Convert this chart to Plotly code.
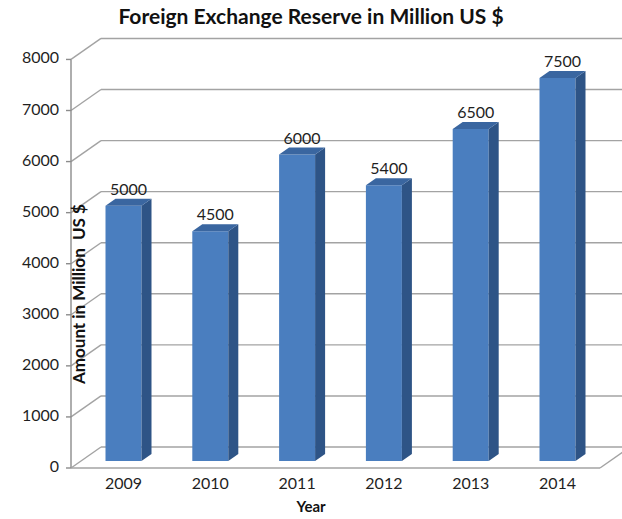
import plotly.graph_objects as go

# ---- data -------------------------------------------------------------
years = ["2009", "2010", "2011", "2012", "2013", "2014"]
reserves = [5000, 4500, 6000, 5400, 6500, 7500]
y_ticks = [0, 1000, 2000, 3000, 4000, 5000, 6000, 7000, 8000]

# ---- page / projection settings ---------------------------------------
W, H = 622, 519
MARGIN = dict(l=0, r=0, t=30, b=49)
CAT_PX = 86.8          # pixels between neighbouring categories
FIRST_CAT_PX = 123.5   # pixel column of the first category
UNIT_PX = 0.05107      # pixels per million US $
BASE_PX = 461          # pixel row of the value 0 on the bar plane

x_range = [(0 - FIRST_CAT_PX) / CAT_PX, (W - FIRST_CAT_PX) / CAT_PX]
y_range = [(BASE_PX - (H - MARGIN["b"])) / UNIT_PX, (BASE_PX - MARGIN["t"]) / UNIT_PX]

BAR_W = 36 / CAT_PX            # width of the front face of a column
DX = 10 / CAT_PX               # one depth step, horizontal part
DY = 7 / UNIT_PX               # one depth step, vertical part
AXIS_X = (81 - FIRST_CAT_PX) / CAT_PX   # value axis on the bar plane
RIGHT_EDGE = (610 - FIRST_CAT_PX) / CAT_PX

FRONT_X = AXIS_X - DX          # front plane (value axis)
BACK_X = AXIS_X + 2 * DX       # back wall

FRONT_COL = "#4A7EBF"
SIDE_COL = "#2E5486"
TOP_COL = "#3A66A0"
GRID_COL = "#A3A3A3"
TEXT_COL = "#1F1F1F"
FONT = "Lato"

xs = list(range(len(years)))
fig = go.Figure()

# ---- walls, floor and gridlines (drawn beneath the columns) -----------
shapes = []
def seg(x0, y0, x1, y1, color=GRID_COL, width=1.4):
    shapes.append(dict(type="line", xref="x", yref="y", x0=x0, y0=y0, x1=x1, y1=y1,
                       line=dict(color=color, width=width), layer="below"))

for v in y_ticks:
    # diagonal on the left wall, then the horizontal line on the back wall
    seg(FRONT_X, v - DY, BACK_X, v + 2 * DY)
    seg(BACK_X, v + 2 * DY, x_range[1] + 1, v + 2 * DY)
    # tick mark on the front value axis
    seg(FRONT_X - 5 / CAT_PX, v - DY, FRONT_X, v - DY, color="#8C8C8C")

# front value axis
seg(FRONT_X, y_ticks[0] - DY, FRONT_X, y_ticks[-1] - DY, color="#8C8C8C")
# floor: front edge and right edge
seg(FRONT_X, -DY, RIGHT_EDGE - DX, -DY)
seg(RIGHT_EDGE - DX, -DY, RIGHT_EDGE + 2 * DX, 2 * DY)

# ---- column front faces -----------------------------------------------
fig.add_trace(go.Bar(
    x=xs, y=reserves, width=BAR_W,
    marker=dict(color=FRONT_COL, line=dict(width=0)),
    hoverinfo="skip", showlegend=False,
))

# ---- column side and top faces -----------------------------------------
side_x, side_y, top_x, top_y = [], [], [], []
for x, v in zip(xs, reserves):
    xl, xr = x - BAR_W / 2, x + BAR_W / 2
    side_x += [xr, xr + DX, xr + DX, xr, xr, None]
    side_y += [0, DY, v + DY, v, 0, None]
    top_x += [xl, xr, xr + DX, xl + DX, xl, None]
    top_y += [v, v, v + DY, v + DY, v, None]

fig.add_trace(go.Scatter(x=side_x, y=side_y, mode="lines", fill="toself",
                         fillcolor=SIDE_COL, line=dict(width=0, color=SIDE_COL),
                         hoverinfo="skip", showlegend=False))
fig.add_trace(go.Scatter(x=top_x, y=top_y, mode="lines", fill="toself",
                         fillcolor=TOP_COL, line=dict(width=0, color=TOP_COL),
                         hoverinfo="skip", showlegend=False))

# ---- value labels above the columns -------------------------------------
fig.add_trace(go.Scatter(
    x=[x + DX / 2 for x in xs], y=[v + DY for v in reserves],
    mode="text", text=[str(v) for v in reserves], textposition="top center",
    textfont=dict(family=FONT, size=16, color=TEXT_COL),
    hoverinfo="skip", showlegend=False, cliponaxis=False,
))

# ---- value axis tick labels ----------------------------------------------
fig.add_trace(go.Scatter(
    x=[FRONT_X - 12 / CAT_PX] * len(y_ticks), y=[v - DY for v in y_ticks],
    mode="text", text=[str(v) for v in y_ticks], textposition="middle left",
    textfont=dict(family=FONT, size=16, color=TEXT_COL),
    hoverinfo="skip", showlegend=False, cliponaxis=False,
))

fig.update_layout(
    width=W, height=H, margin=MARGIN,
    paper_bgcolor="white", plot_bgcolor="white",
    shapes=shapes,
    title=dict(text="<b>Foreign Exchange Reserve in Million US $</b>",
               x=0.5, xanchor="center", y=1 - 17 / H, yanchor="middle",
               font=dict(family=FONT, size=21, color="#111111")),
    xaxis=dict(range=x_range, tickvals=xs, ticktext=years,
               showgrid=False, zeroline=False, showline=False, ticks="",
               ticklabelstandoff=2,
               tickfont=dict(family=FONT, size=16, color=TEXT_COL),
               title=dict(text="<b>Year</b>", standoff=10,
                          font=dict(family=FONT, size=15, color="#111111"))),
    yaxis=dict(range=y_range, visible=False),
    annotations=[dict(
        text="<b>Amount in Million  US $</b>", textangle=-90,
        xref="paper", yref="paper", x=78 / W,
        y=((H - MARGIN["b"]) - 295) / (H - MARGIN["b"] - MARGIN["t"]),
        showarrow=False, xanchor="center", yanchor="middle",
        font=dict(family=FONT, size=17, color="#111111"),
    )],
)

fig.write_html("out.html")
